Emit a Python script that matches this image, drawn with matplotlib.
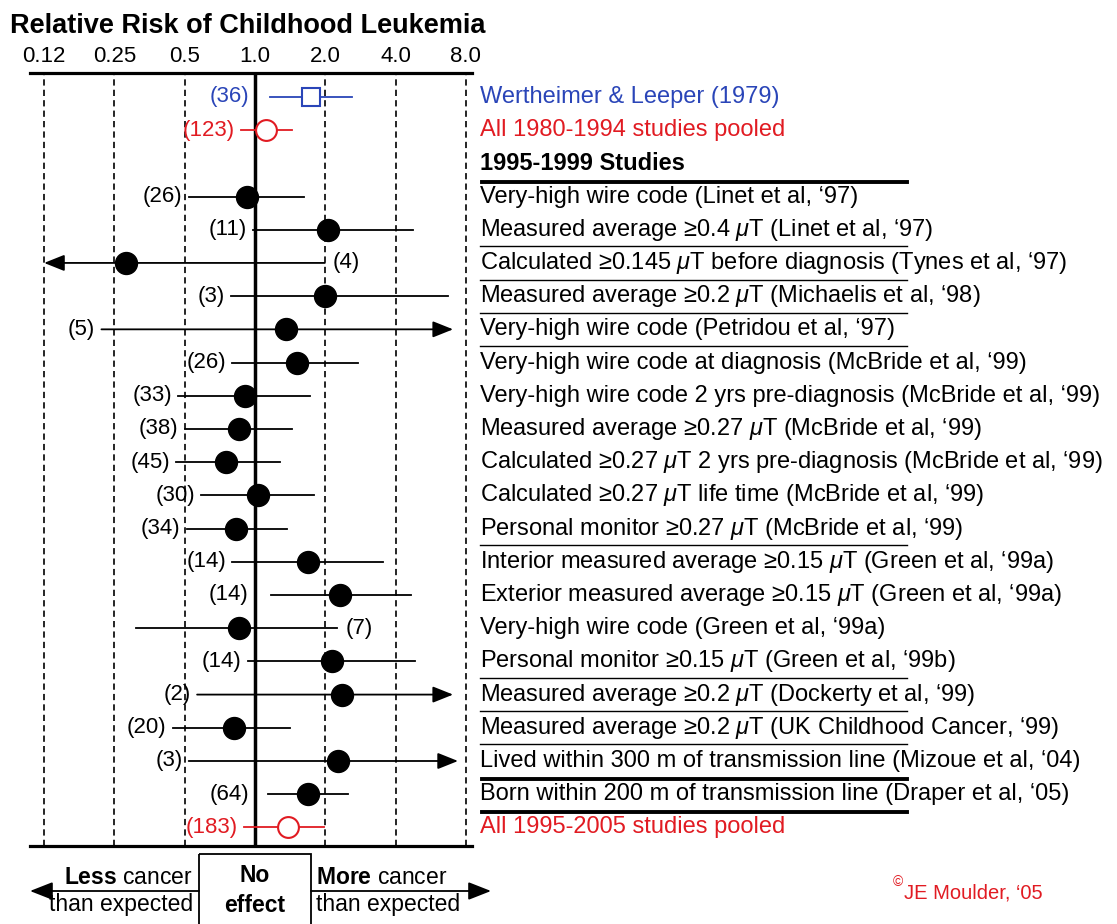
import matplotlib
matplotlib.use('Agg')
import matplotlib.pyplot as plt
from matplotlib.patches import Rectangle

plt.rcParams['font.family'] = ['Liberation Sans', 'DejaVu Sans']
plt.rcParams['mathtext.fontset'] = 'custom'
plt.rcParams['mathtext.rm'] = 'Liberation Sans'
plt.rcParams['mathtext.it'] = 'Liberation Sans:italic'
plt.rcParams['mathtext.bf'] = 'Liberation Sans:bold'
plt.rcParams['lines.scale_dashes'] = False

BLUE = '#2a45b8'
RED = '#e11b22'
MU = r'$\mu$T'

# ---- data ----
labels = [
    'Wertheimer & Leeper (1979)',
    'All 1980-1994 studies pooled',
    'Very-high wire code (Linet et al, \u201897)',
    f'Measured average \u22650.4 {MU} (Linet et al, \u201897)',
    f'Calculated \u22650.145 {MU} before diagnosis (Tynes et al, \u201897)',
    f'Measured average \u22650.2 {MU} (Michaelis et al, \u201898)',
    'Very-high wire code (Petridou et al, \u201897)',
    'Very-high wire code at diagnosis (McBride et al, \u201899)',
    'Very-high wire code 2 yrs pre-diagnosis (McBride et al, \u201899)',
    f'Measured average \u22650.27 {MU} (McBride et al, \u201899)',
    f'Calculated \u22650.27 {MU} 2 yrs pre-diagnosis (McBride et al, \u201899)',
    f'Calculated \u22650.27 {MU} life time (McBride et al, \u201899)',
    f'Personal monitor \u22650.27 {MU} (McBride et al, \u201899)',
    f'Interior measured average \u22650.15 {MU} (Green et al, \u201899a)',
    f'Exterior measured average \u22650.15 {MU} (Green et al, \u201899a)',
    'Very-high wire code (Green et al, \u201899a)',
    f'Personal monitor \u22650.15 {MU} (Green et al, \u201899b)',
    f'Measured average \u22650.2 {MU} (Dockerty et al, \u201899)',
    f'Measured average \u22650.2 {MU} (UK Childhood Cancer, \u201899)',
    'Lived within 300 m of transmission line (Mizoue et al, \u201804)',
    'Born within 200 m of transmission line (Draper et al, \u201805)',
    'All 1995-2005 studies pooled',
]
rows = [0, 1] + list(range(3, 23))
header_row = 2
header = '1995-1999 Studies'

cases = [36, 123, 26, 11, 4, 3, 5, 26, 33, 38, 45, 30, 34, 14, 14, 7, 14, 2, 20, 3, 64, 183]
rr = [1.74, 1.11, 0.92, 2.06, 0.28, 2.00, 1.36, 1.51, 0.91, 0.85, 0.75,
      1.03, 0.83, 1.69, 2.31, 0.85, 2.14, 2.36, 0.81, 2.27, 1.69, 1.38]
lo = [1.16, 0.87, 0.52, 0.98, 0.125, 0.79, 0.22, 0.80, 0.47, 0.50, 0.46,
      0.59, 0.51, 0.80, 1.17, 0.31, 0.93, 0.565, 0.445, 0.52, 1.14, 0.90]
hi = [2.60, 1.44, 1.62, 4.75, 1.99, 6.70, 7.05, 2.76, 1.72, 1.44, 1.28,
      1.79, 1.37, 3.53, 4.65, 2.24, 4.85, 7.05, 1.41, 7.40, 2.50, 1.97]
arrow = ['', '', '', '', 'lo', '', 'hi', '', '', '', '',
         '', '', '', '', '', '', 'hi', '', 'hi', '', '']
count_side = ['L'] * 22
count_side[4] = 'R'
count_side[15] = 'R'
kind = ['square', 'open'] + ['filled'] * 19 + ['open']
colors = [BLUE, RED] + ['black'] * 19 + [RED]

thin_after = [4, 5, 6, 7, 13, 17, 18, 19]
thick_after = [2, 20, 21]

ticks = [0.125, 0.25, 0.5, 1.0, 2.0, 4.0, 8.0]
tick_labels = ['0.12', '0.25', '0.5', '1.0', '2.0', '4.0', '8.0']

W, H = 1117, 924
fig = plt.figure(figsize=(W / 100, H / 100), dpi=100)

# overlay in pixel coords for the decorations
ov = fig.add_axes([0, 0, 1, 1])
ov.set_xlim(0, W)
ov.set_ylim(H, 0)
ov.axis('off')

ax = fig.add_axes([30 / W, 1 - 846 / H, 442 / W, 773 / H])
ax.patch.set_visible(False)
ax.set_xscale('log', base=2)
ax.set_xlim(2 ** (-225 / 70.3), 2 ** (217 / 70.3))
ax.set_ylim(22.56, -0.72)
for s in ['left', 'right']:
    ax.spines[s].set_visible(False)
for s in ['top', 'bottom']:
    ax.spines[s].set_linewidth(2.3)
ax.xaxis.tick_top()
ax.set_xticks(ticks)
ax.set_xticklabels(tick_labels, fontsize=16)
ax.minorticks_off()
ax.tick_params(axis='x', length=0, pad=4)
ax.set_yticks([])

for t in ticks:
    if t == 1.0:
        ax.axvline(t, color='black', lw=2.5, zorder=2)
    else:
        ax.axvline(t, color='black', lw=1.2, dashes=(4.5, 3), zorder=1)

for i, y in enumerate(rows):
    c = colors[i]
    if arrow[i]:
        tip, tail = (lo[i], hi[i]) if arrow[i] == 'lo' else (hi[i], lo[i])
        ax.annotate('', xy=(tip, y), xytext=(tail, y),
                    arrowprops=dict(arrowstyle='-|>,head_length=1.25,head_width=0.5',
                                    mutation_scale=10, lw=1.3, color=c,
                                    shrinkA=0, shrinkB=0), zorder=3)
    else:
        ax.plot([lo[i], hi[i]], [y, y], color=c, lw=1.3, zorder=3)
    if kind[i] == 'filled':
        ax.plot(rr[i], y, 'o', ms=15.8, color='black', zorder=4)
    elif kind[i] == 'open':
        ax.plot(rr[i], y, 'o', ms=15, mfc='white', mec=c, mew=1.5, zorder=4)
    else:
        ax.plot(rr[i], y, 's', ms=13.5, mfc='white', mec=c, mew=1.5, zorder=4)

    if count_side[i] == 'L':
        ax.annotate(f'({cases[i]})', xy=(min(lo[i], 1.0), y), xytext=(-4.5, 0),
                    textcoords='offset points', ha='right', va='center',
                    fontsize=16, color=c, zorder=5)
    else:
        ax.annotate(f'({cases[i]})', xy=(hi[i], y), xytext=(6, 0),
                    textcoords='offset points', ha='left', va='center',
                    fontsize=16, color=c, zorder=5)

    ax.text(1.018, y, labels[i], transform=ax.get_yaxis_transform(),
            ha='left', va='center', fontsize=17, color=c, clip_on=False)

ax.text(1.018, header_row, header, transform=ax.get_yaxis_transform(),
        ha='left', va='center', fontsize=17, weight='bold', clip_on=False)

for r in thin_after:
    ax.plot([1.018, 1.984], [r + 0.5, r + 0.5], color='black', lw=1.0,
            transform=ax.get_yaxis_transform(), clip_on=False)
for r in thick_after:
    ax.plot([1.022, 1.984], [r + 0.55, r + 0.55], color='black', lw=2.8,
            transform=ax.get_yaxis_transform(), clip_on=False)

# title
ov.text(10, 26, 'Relative Risk of Childhood Leukemia', ha='left', va='center',
        fontsize=19.5, weight='bold')

# bottom legend
ov.add_patch(Rectangle((199, 854), 112, 90, fill=False, lw=1.3, ec='black', clip_on=False))
arr = dict(arrowstyle='-|>,head_length=1.4,head_width=0.55', mutation_scale=10,
           lw=1.3, color='black', shrinkA=0, shrinkB=0)
ov.annotate('', xy=(30, 891), xytext=(199, 891), arrowprops=arr)
ov.annotate('', xy=(491, 891), xytext=(311, 891), arrowprops=arr)
ov.text(193, 877, r'$\mathbf{Less}$ cancer', ha='right', va='center', fontsize=16.5)
ov.text(193, 905, 'than expected', ha='right', va='center', fontsize=16.5)
ov.text(255, 876, 'No', ha='center', va='center', fontsize=16.5, weight='bold')
ov.text(255, 905, 'effect', ha='center', va='center', fontsize=16.5, weight='bold')
ov.text(316, 877, r'$\mathbf{More}$ cancer', ha='left', va='center', fontsize=16.5)
ov.text(316, 905, 'than expected', ha='left', va='center', fontsize=16.5)

# credit
ov.text(893, 882, '\u00a9', ha='left', va='center', fontsize=10, color=RED)
ov.text(904, 893, 'JE Moulder, \u201805', ha='left', va='center', fontsize=14.5, color=RED)

fig.savefig('out.png', dpi=100)
